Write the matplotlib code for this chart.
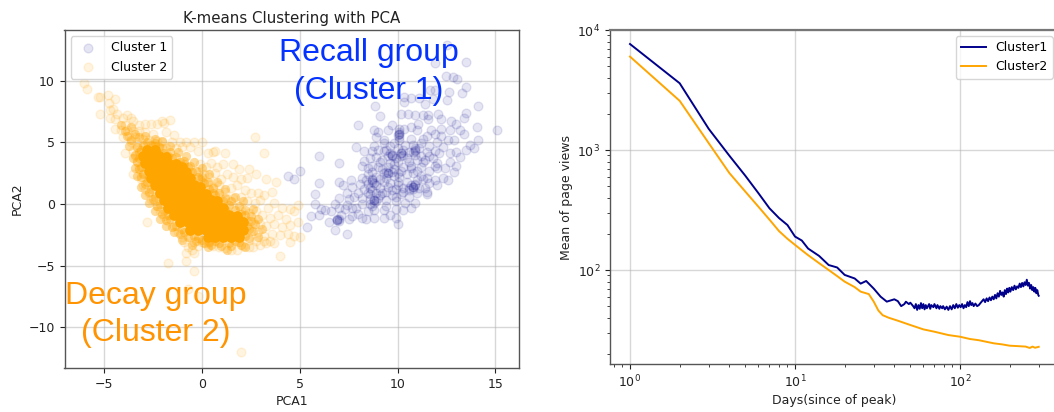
"""
K-means scatter on the PCA plane and mean page views since peak for both clusters.
"""

import matplotlib

matplotlib.use("Agg")
import matplotlib.pyplot as plt
import numpy as np

# Cluster 1 scatter as (PCA1, PCA2).
cluster1_points = np.array([
    (12.55, 12.9), (13.5, 11.5), (11.9, 11.4), (12.45, 10.4), (12.85, 10.3), (13.05, 10.1),
    (13.5, 9.5), (12.65, 9.1), (13.3, 9.0), (11.65, 9.2), (11.9, 9.2), (10.35, 8.7),
    (10.35, 8.3), (10.7, 8.6), (11.1, 8.6), (11.8, 8.5), (12.5, 8.4), (11.4, 8.1),
    (8.85, 7.95), (14.1, 7.9), (13.5, 7.4), (9.1, 7.1), (10.2, 7.3), (10.55, 7.3),
    (10.9, 7.2), (11.3, 7.2), (11.55, 7.2), (12.05, 7.3), (12.2, 6.9), (13.4, 7.0),
    (11.55, 6.9), (8.0, 6.4), (8.8, 6.0), (9.7, 6.4), (9.5, 6.0), (10.1, 6.1),
    (11.05, 6.5), (10.7, 6.2), (10.35, 6.1), (12.75, 6.7), (13.0, 6.5), (14.05, 6.2),
    (15.1, 6.0), (13.2, 6.0), (12.7, 6.0), (12.2, 6.1), (11.7, 6.0), (11.0, 6.0),
    (9.0, 5.8), (8.9, 5.4), (9.3, 5.2), (10.1, 5.7), (10.1, 5.7), (10.1, 5.4),
    (10.1, 5.2), (10.7, 5.3), (11.3, 5.3), (11.5, 5.5), (11.9, 5.7), (12.2, 5.5),
    (12.6, 5.2), (12.9, 5.2), (13.4, 5.7), (14.1, 5.2), (13.7, 4.8), (13.9, 4.5),
    (13.5, 4.4), (13.0, 4.2), (12.7, 4.1), (7.9, 4.6), (8.3, 4.3), (8.7, 4.3),
    (9.0, 4.4), (9.3, 4.3), (9.6, 4.7), (9.8, 4.9), (10.4, 4.8), (10.8, 4.8),
    (11.2, 4.9), (11.6, 4.7), (12.0, 5.0), (12.3, 4.6), (11.9, 4.3), (11.5, 4.2),
    (10.9, 4.4), (10.9, 4.3), (10.9, 4.0), (10.2, 4.1), (10.2, 4.1), (10.2, 3.9),
    (9.7, 4.0), (9.7, 4.0), (9.5, 3.9), (9.9, 3.7), (8.6, 3.7), (8.3, 3.5),
    (8.2, 3.1), (8.5, 2.9), (8.7, 3.1), (9.0, 3.0), (9.2, 3.6), (9.6, 3.3),
    (10.0, 3.4), (10.6, 3.4), (11.0, 3.6), (11.4, 3.6), (11.8, 3.7), (12.0, 3.3),
    (12.7, 3.4), (13.2, 3.8), (12.4, 2.9), (13.0, 3.1), (12.9, 2.6), (12.0, 2.9),
    (11.6, 2.7), (11.2, 3.0), (10.7, 2.9), (10.2, 2.7), (9.8, 2.8), (6.0, 3.9),
    (7.0, 3.3), (9.5, 2.5), (9.5, 2.5), (9.3, 2.5), (9.8, 2.3), (10.1, 2.2),
    (10.5, 2.4), (10.8, 2.5), (11.2, 2.3), (11.5, 2.1), (11.9, 1.9), (12.3, 2.1),
    (12.6, 1.9), (12.0, 1.5), (11.6, 1.7), (11.0, 1.9), (10.5, 1.8), (10.0, 1.8),
    (9.6, 1.7), (9.1, 2.0), (8.7, 2.0), (8.7, 1.8), (8.5, 1.6), (8.2, 2.1),
    (8.1, 1.6), (7.6, 1.9), (7.0, 1.8), (6.0, 1.7), (5.0, 2.7), (4.4, 2.3),
    (4.7, 2.0), (7.2, 1.5), (7.7, 1.4), (8.3, 1.2), (8.7, 1.1), (9.1, 1.3),
    (9.5, 1.4), (9.9, 1.2), (10.3, 1.3), (10.8, 1.4), (10.8, 1.4), (10.6, 1.3),
    (11.1, 1.3), (11.4, 1.3), (7.4, 0.9), (8.0, 0.9), (8.6, 0.8), (9.2, 0.9),
    (9.7, 0.7), (10.2, 0.8), (10.6, 0.6), (11.0, 0.9), (11.5, 0.8), (8.8, 0.3),
    (8.8, 0.3), (8.6, 0.4), (9.0, 0.5), (9.4, 0.3), (9.9, 0.2), (10.4, 0.1),
    (10.9, 0.1), (5.8, 0.8), (5.8, 0.0), (7.0, 0.5), (7.5, 0.4), (6.3, -0.5),
    (6.6, -0.6), (7.0, -0.3), (7.3, -0.4), (7.7, -0.3), (8.2, 0.0), (8.8, -0.5),
    (8.7, -0.2), (9.4, -0.2), (9.9, -0.4), (10.3, -0.5), (10.7, -0.3), (6.0, -0.9),
    (6.1, -0.4), (5.6, -1.0), (6.9, -1.3), (6.9, -1.3), (7.0, -1.4), (7.7, -1.0),
    (8.2, -1.1), (8.4, -1.2), (8.8, -1.1), (9.3, -1.1), (9.6, -0.9), (7.9, -0.3),
    (5.4, -1.9), (6.8, -2.1), (7.4, -2.4), (8.0, -0.8), (8.5, -0.6), (7.1, -0.9),
    (10.0, -1.6), (9.9, -1.1), (7.5, -1.2), (6.5, -1.5),
    # second pass over the busy middle of the cloud
    (8.5, 2.4), (8.7, 2.6), (8.9, 2.2), (9.2, 2.8), (9.5, 3.0), (9.4, 2.1),
    (9.7, 2.6), (10.0, 2.5), (10.3, 3.0), (10.5, 3.7), (10.3, 4.4), (10.0, 4.5),
    (9.4, 4.4), (9.8, 3.2), (10.7, 3.1), (11.0, 2.7), (11.3, 3.4), (11.1, 4.5),
    (11.6, 3.9), (11.9, 3.1), (11.3, 2.0), (10.9, 1.6), (10.6, 1.1), (10.3, 1.0),
    (10.0, 1.5), (9.7, 1.1), (9.4, 1.0), (9.1, 0.7), (8.9, 0.9), (8.6, 0.0),
    (8.8, 0.1), (8.5, 0.9), (8.4, 1.9), (8.6, 1.3), (8.9, 1.5), (9.3, 1.8),
    (9.1, 3.4), (8.9, 3.8), (8.8, 4.7), (9.3, 4.9), (10.6, 4.2), (11.2, 3.9),
    (10.8, 1.2), (10.7, 1.5), (10.9, 1.5), (9.7, 3.9), (9.6, 4.1), (10.3, 4.0),
    (10.1, 5.8), (10.0, 5.6), (9.4, 2.6), (8.9, 0.2), (8.7, 1.9), (8.8, 1.7),
    (6.9, -1.2), (7.0, -1.2), (10.9, 4.5), (10.8, 4.2), (11.5, 1.0), (12.1, 4.1),
    (9.3, -0.5), (7.8, 0.6), (7.4, -0.1), (6.8, 0.0), (8.2, 0.5), (9.9, 0.6),
])

# Cluster 2 scatter: the thin outer cloud, a denser rim, then the saturated middle.
cluster2_points = np.array([
    (-6.0, 9.8), (-5.85, 9.3), (-5.3, 8.7), (-5.2, 8.7), (-5.2, 7.3), (-4.8, 8.8),
    (-4.75, 8.2), (-4.4, 8.5), (-4.7, 7.6), (-4.5, 7.7), (-4.3, 7.3), (-4.7, 7.0),
    (-4.4, 6.9), (-4.0, 7.0), (-3.8, 7.2), (-3.6, 7.0), (-3.9, 6.4), (-3.5, 6.7),
    (-3.2, 6.4), (-2.9, 6.5), (-2.6, 6.5), (-2.3, 6.5), (-2.0, 6.7), (-1.9, 6.6),
    (-1.6, 6.8), (-4.4, 6.1), (-4.1, 6.0), (-3.8, 6.0), (-3.5, 5.9), (-3.2, 5.9),
    (-2.9, 5.8), (-2.5, 5.7), (-1.8, 5.8), (-1.4, 5.6), (-4.0, 5.4), (-3.7, 5.5),
    (-3.4, 5.4), (-3.0, 5.3), (-2.7, 5.2), (-2.3, 5.1), (-2.0, 5.0), (-1.5, 5.0),
    (-1.1, 5.0), (-0.8, 5.0), (-0.4, 5.0), (0.0, 5.0), (-3.6, 5.0), (-3.3, 5.0),
    (-2.9, 4.8), (-2.5, 4.7), (-1.8, 4.5), (-1.3, 4.5), (-1.0, 4.6), (-0.6, 4.6),
    (-0.2, 4.3), (0.3, 4.1), (0.6, 4.2), (0.7, 4.3), (1.2, 4.1), (2.7, 5.4), (3.2, 4.1),
    (-3.9, 4.1), (-3.5, 4.3), (-3.3, 4.6), (-3.4, 3.9), (-3.3, 3.5), (-3.2, 3.0),
    (-3.5, 2.4), (-3.0, 2.5), (-3.1, 2.0), (-3.0, 1.5), (-2.9, 1.2), (-2.7, 0.9),
    (-2.6, 0.4), (-2.4, 0.2), (-2.3, -0.2), (-2.1, -0.6), (-2.8, -1.5), (-1.9, -1.0),
    (-1.7, -1.4), (-1.4, -1.8), (-1.2, -2.3), (-1.0, -2.7), (-0.9, -3.1), (-0.6, -2.7),
    (-0.4, -3.1), (-0.2, -3.4), (-0.5, -3.7), (-0.7, -3.5), (-0.8, -4.0), (-0.4, -4.0),
    (0.0, -3.1), (0.3, -3.2), (0.6, -3.4), (0.9, -3.5), (1.2, -3.6), (1.5, -3.7),
    (1.8, -3.7), (2.1, -3.4), (2.4, -3.5), (2.6, -3.5), (3.0, -3.3), (3.3, -3.2),
    (3.5, -3.0), (-1.7, -4.8), (-0.8, -4.6), (-0.4, -5.4), (-0.7, -6.9), (-0.2, -7.5),
    (2.0, -12.0), (4.0, -4.2), (-0.1, 3.2), (0.2, 3.0), (0.5, 3.3), (0.8, 3.0),
    (1.1, 3.2), (1.6, 3.2), (2.4, 2.8), (2.8, 2.4), (3.3, 2.0), (3.8, 1.8), (-0.2, 2.6),
    (0.1, 2.4), (0.4, 2.2), (0.7, 2.5), (1.0, 2.0), (1.3, 2.4), (1.6, 2.2), (1.9, 2.8),
    (2.0, 2.0), (2.3, 2.1), (0.0, 1.8), (0.3, 1.6), (0.6, 1.4), (0.9, 1.5), (1.2, 1.0),
    (1.5, 1.3), (1.8, 1.5), (2.2, 1.1), (2.5, 0.9), (2.9, 0.9), (3.2, 0.7), (3.6, 1.0),
    (0.9, 0.7), (1.3, 0.4), (1.6, 0.5), (2.0, 0.6), (2.3, 0.2), (2.7, 0.1), (3.0, 0.3),
    (3.4, -0.3), (3.7, 0.1), (4.1, -0.3), (4.5, -0.4), (1.6, -0.2), (2.0, -0.5),
    (2.4, -0.7), (2.8, -0.6), (3.1, -0.9), (3.5, -1.1), (3.9, -0.9), (4.3, -1.2),
    (4.7, -0.6), (4.9, -0.1), (2.3, -1.4), (2.6, -1.5), (3.0, -1.6), (3.3, -1.8),
    (3.7, -1.6), (4.1, -1.9), (4.5, -1.7), (4.9, -1.5), (2.5, -2.2), (2.9, -2.3),
    (3.2, -2.6), (3.6, -2.4), (4.0, -2.5), (4.4, -2.4), (4.7, -2.6), (5.0, -2.7),
    (4.5, -3.1), (2.4, -2.9), (2.8, -3.0), (3.2, -3.0), (3.7, -3.2),
])

cluster2_rim_points = np.array([
    (-3.3, 4.6), (-3.4, 4.0), (-3.3, 3.4), (-3.2, 2.8), (-3.1, 2.2), (-2.9, 1.6),
    (-2.7, 1.0), (-2.5, 0.4), (-2.3, -0.2), (-2.0, -0.8), (-1.8, -1.3), (-1.5, -1.9),
    (-1.1, -2.4), (-0.7, -2.7), (-0.3, -3.0), (0.1, -3.2), (0.5, -3.3), (1.0, -3.4),
    (1.5, -3.4), (2.0, -3.3), (2.4, -2.8), (2.6, -2.2), (2.7, -1.6), (2.5, -1.0),
    (2.2, -0.5), (1.9, -0.2), (1.5, 0.2), (1.2, 0.5), (0.9, 0.9), (0.6, 1.3),
    (0.3, 1.8), (0.0, 2.2), (-0.3, 2.7), (-0.6, 3.1), (-0.9, 3.5), (-1.3, 3.8),
    (-1.6, 4.2), (-2.0, 4.5), (-2.4, 4.9), (-2.8, 5.0), (-3.6, 5.2), (-3.2, 5.4),
    (-2.9, 5.5), (-2.4, 5.3), (-2.0, 5.1), (-1.6, 4.7), (-1.2, 4.2), (-0.8, 3.9),
    (-0.4, 3.4), (0.0, 2.9), (0.4, 2.4), (0.8, 1.8), (1.2, 1.2), (1.7, 0.6),
    (2.1, 0.2), (2.6, -0.4), (2.9, -1.2), (3.1, -2.0), (2.9, -2.7), (-3.9, 5.9),
    (-3.6, 6.2), (-4.1, 6.4), (-3.8, 5.5), (-3.4, 5.7), (-3.7, 4.7), (-3.5, 3.7),
    (-3.4, 2.9), (-3.3, 2.3), (-3.1, 1.4), (-2.9, 0.7), (-2.7, 0.1), (-2.4, -0.6),
    (-2.1, -1.2), (-1.8, -1.8), (-1.4, -2.3), (-1.0, -2.9), (-0.5, -3.3), (0.3, -3.5),
    (1.3, -3.7), (2.2, -3.5),
    # inner ring, closes the scallops along the edge of the solid part
    (-3.1, 4.4), (-3.2, 3.7), (-3.1, 3.0), (-3.0, 2.4), (-2.8, 1.8), (-2.6, 1.2),
    (-2.4, 0.6), (-2.1, 0.0), (-1.9, -0.6), (-1.6, -1.2), (-1.3, -1.8), (-0.9, -2.3),
    (-0.4, -2.6), (0.0, -2.9), (0.4, -3.1), (0.9, -3.2), (1.4, -3.2), (1.9, -3.1),
    (2.2, -2.6), (2.4, -2.0), (2.5, -1.4), (2.2, -0.9), (1.7, -0.5), (1.4, -0.1),
    (1.1, 0.2), (0.7, 0.7), (0.4, 1.2), (0.1, 1.7), (-0.2, 2.2), (-0.5, 2.6),
    (-0.7, 3.0), (-1.1, 3.4), (-1.5, 3.7), (-1.9, 4.1), (-2.2, 4.6), (-2.6, 4.8),
    (-3.0, 4.8), (-3.2, 4.2), (-2.9, 3.6), (-2.7, 2.2), (-2.2, 0.9), (-1.7, -0.9),
    (-1.0, -2.0), (-0.2, -2.8), (0.7, -3.0), (1.7, -3.0), (2.3, -1.8), (2.0, -0.8),
    (1.2, -0.5), (0.6, 0.9), (-0.1, 2.0), (-0.9, 3.2), (-1.7, 3.9), (-2.4, 4.7),
])

cluster2_core_points = np.array([
    (-2.8, 4.4), (-2.4, 4.4),
    (-3.0, 3.9), (-2.6, 3.9), (-2.2, 3.9), (-1.8, 3.8),
    (-2.9, 3.3), (-2.5, 3.3), (-2.1, 3.3), (-1.7, 3.3), (-1.3, 3.2), (-1.0, 3.0),
    (-2.7, 2.7), (-2.3, 2.7), (-1.9, 2.7), (-1.5, 2.7), (-1.1, 2.7), (-0.8, 2.6),
    (-2.6, 2.1), (-2.2, 2.1), (-1.8, 2.1), (-1.4, 2.1), (-1.0, 2.1), (-0.6, 2.1),
    (-2.4, 1.5), (-2.0, 1.5), (-1.6, 1.5), (-1.2, 1.5), (-0.8, 1.5), (-0.4, 1.5), (-0.1, 1.4),
    (-2.1, 0.9), (-1.7, 0.9), (-1.3, 0.9), (-0.9, 0.9), (-0.5, 0.9), (-0.1, 0.9), (0.2, 0.8),
    (-1.9, 0.3), (-1.5, 0.3), (-1.1, 0.3), (-0.7, 0.3), (-0.3, 0.3), (0.1, 0.3), (0.5, 0.3), (0.8, 0.2),
    (-1.7, -0.3), (-1.3, -0.3), (-0.9, -0.3), (-0.5, -0.3), (-0.1, -0.3), (0.3, -0.3), (0.7, -0.3), (1.1, -0.3),
    (-1.4, -0.9), (-1.0, -0.9), (-0.6, -0.9), (-0.2, -0.9), (0.2, -0.9), (0.6, -0.9), (1.0, -0.9), (1.4, -0.9), (1.8, -1.0),
    (-1.1, -1.5), (-0.7, -1.5), (-0.3, -1.5), (0.1, -1.5), (0.5, -1.5), (0.9, -1.5), (1.3, -1.5), (1.7, -1.5), (2.1, -1.5),
    (-0.6, -2.1), (-0.2, -2.1), (0.2, -2.1), (0.6, -2.1), (1.0, -2.1), (1.4, -2.1), (1.8, -2.1), (2.1, -2.1),
    (0.3, -2.7), (0.7, -2.7), (1.1, -2.7), (1.5, -2.7), (1.9, -2.7),
])

# Both lines.
cluster1_days = [
    1, 2, 3, 4, 5, 6, 7, 8, 9, 10, 11, 12, 14, 16, 18, 20, 23, 25, 27, 30, 33, 36, 40,
    42, 44, 46, 47, 49, 50, 52, 53, 54, 55, 56, 57, 58, 59, 60, 61, 62, 63, 65, 66, 67,
    69, 70, 72, 73, 75, 76, 78, 79, 81, 83, 85, 87, 89, 91, 93, 95, 97, 99, 101, 103,
    105, 107, 109, 111, 113, 115, 117, 119, 121, 124, 127, 130, 133, 136, 139, 142,
    145, 148, 151, 154, 157, 160, 163, 166, 169, 172, 175, 178, 181, 184, 187, 190,
    193, 196, 199, 202, 206, 210, 214, 218, 222, 226, 230, 234, 238, 242, 246, 250,
    254, 258, 262, 266, 270, 274, 278, 282, 286, 290, 294, 298, 300,
]
cluster1_views = [
    7640, 3600, 1500, 897, 610, 437, 327, 271, 237, 190, 176, 151, 131, 110, 105, 91,
    85, 77, 81, 70, 60, 54.5, 57, 55, 50, 52, 54.4, 52, 53.4, 50, 48, 52, 46.5, 51,
    47.5, 53, 48, 52, 47, 51, 48, 52, 47.5, 51, 49, 52, 48, 51, 47.5, 50, 48, 50, 47,
    49.5, 46.5, 50, 47, 51, 48, 52, 48.5, 51, 49, 52, 48, 51, 49, 54, 50, 55, 51, 53,
    50, 52.5, 50, 51, 53, 55, 57, 54, 58, 55, 59, 56, 60, 57, 62, 58, 64, 60, 67, 62,
    65, 60, 68, 63, 70, 65, 71, 66, 72, 68, 74, 69, 73, 71, 77, 72, 78, 73, 79, 75, 83,
    74, 78, 70, 75, 68, 72, 66, 71, 64, 68, 62, 61,
]
cluster2_days = [
    1, 2, 3, 4, 5, 6, 7, 8, 9, 10, 11, 12, 14, 16, 18, 20, 23, 25, 28, 30, 32, 34, 37,
    42, 50, 60, 70, 85, 100, 115, 130, 145, 160, 180, 200, 225, 250, 265, 275, 285, 300,
]
cluster2_views = [
    6000, 2570, 1140, 643, 450, 337, 263, 211, 182, 162, 146, 133, 114, 100, 89, 80,
    72, 66, 63, 54.5, 46, 42, 40, 37.8, 34.8, 32, 30.6, 28.7, 27.8, 26.6, 26, 25.2,
    24.5, 24, 23.4, 23.2, 23, 22.4, 23, 22.5, 22.9,
]

cluster_color = "darkblue"
decay_color = "orange"


def style_axis(axis):
    """
    Grey frame and soft grid shared by both panels.
    """

    axis.grid(True, color="#b0b0b0", alpha=0.5, linewidth=1.0)
    axis.set_axisbelow(True)
    axis.tick_params(labelsize=9, colors="#222222", which="both")
    for spine in axis.spines.values():
        spine.set_color("#555555")
        spine.set_linewidth(1.0)


fig = plt.figure(figsize=(10.54, 4.12), dpi=100)

left = fig.add_axes([64.5 / 1054, 44 / 412, 454.5 / 1054, 338 / 412])
left.scatter(*cluster1_points.T, color=cluster_color, alpha=0.1, s=40, label="Cluster 1")
left.scatter(*cluster2_points.T, color=decay_color, alpha=0.12, s=40, label="Cluster 2")
left.scatter(*cluster2_rim_points.T, color=decay_color, alpha=0.4, s=44, linewidths=0)
left.scatter(*cluster2_core_points.T, color=decay_color, s=60, linewidths=0)
left.set_xlim(-7.0, 16.2)
left.set_ylim(-13.3, 14.1)
left.set_xticks([-5, 0, 5, 10, 15])
left.set_yticks([-10, -5, 0, 5, 10])
left.set_title("K-means Clustering with PCA", fontsize=10.8, color="#222222", pad=5)
left.set_xlabel("PCA1", fontsize=9, color="#222222", labelpad=3)
left.set_ylabel("PCA2", fontsize=9, color="#222222", labelpad=3)
left.legend(loc="upper left", fontsize=9)
style_axis(left)

left.text(
    0.669, 0.876, "Recall group\n(Cluster 1)", transform=left.transAxes,
    ha="center", va="center", multialignment="center", color="#0433ff",
    fontsize=23, family="Liberation Sans", linespacing=1.32,
)
left.text(
    0.2, 0.158, "Decay group\n(Cluster 2)", transform=left.transAxes,
    ha="center", va="center", multialignment="center", color="#ff9300",
    fontsize=23, family="Liberation Sans", linespacing=1.32,
)

# The frame runs a few pixels past the right edge of the canvas, as in the source.
right = fig.add_axes([610 / 1054, 48 / 412, 449 / 1054, 334 / 412])
right.loglog(cluster1_days, cluster1_views, color=cluster_color, linewidth=1.4, label="Cluster1")
right.loglog(cluster2_days, cluster2_views, color=decay_color, linewidth=1.4, label="Cluster2")
right.set_xlim(10 ** (-20 / 165), 10 ** (429 / 165))
right.set_ylim(10 ** (2 - 94 / 120), 10 ** 4)
right.set_xlabel("Days(since of peak)", fontsize=9, color="#222222", labelpad=3)
right.set_ylabel("Mean of page views", fontsize=9, color="#222222", labelpad=3)
right.legend(loc="upper right", fontsize=9)
style_axis(right)
right.spines["top"].set_linewidth(1.6)
right.spines["top"].set_color("#777777")

fig.savefig("out.png", dpi=100)
